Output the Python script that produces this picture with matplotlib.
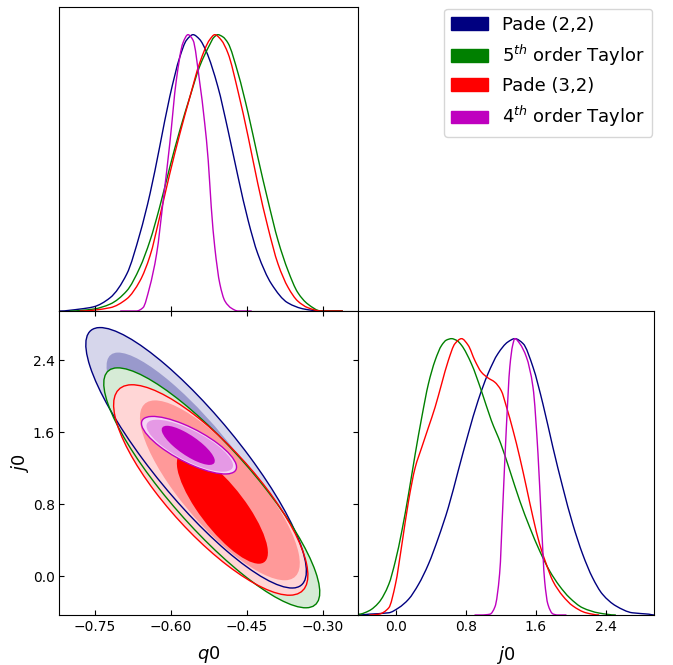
import numpy as np
import matplotlib.pyplot as plt
from matplotlib.patches import Ellipse, Patch, PathPatch
from matplotlib.path import Path

labels = ['Pade (2,2)', '$5^{th}$ order Taylor', 'Pade (3,2)', '$4^{th}$ order Taylor']
colors = ['#000080', '#008000', '#ff0000', '#bf00bf']

# 1D marginals of q0 (normalised to peak 1)
p22_q = [-0.82, -0.780, -0.753, -0.720, -0.687, -0.661, -0.641, -0.622, -0.602, -0.582, -0.569, -0.556,
         -0.543, -0.530, -0.507, -0.487, -0.467, -0.447, -0.428, -0.401, -0.369, -0.336, -0.303, -0.26]
p22_q_p = [0.0, 0.007, 0.015, 0.048, 0.134, 0.28, 0.425, 0.594, 0.776, 0.92, 0.98, 1.0,
           0.983, 0.94, 0.812, 0.655, 0.485, 0.327, 0.207, 0.098, 0.03, 0.007, 0.0, 0.0]
t5_q = [-0.80, -0.753, -0.720, -0.687, -0.661, -0.641, -0.622, -0.602, -0.582, -0.562, -0.543, -0.523,
        -0.515, -0.507, -0.497, -0.487, -0.467, -0.447, -0.428, -0.408, -0.388, -0.368, -0.349, -0.329, -0.303, -0.26]
t5_q_p = [0.0, 0.007, 0.025, 0.073, 0.158, 0.255, 0.376, 0.52, 0.655, 0.776, 0.885, 0.964,
          0.99, 1.0, 0.992, 0.97, 0.86, 0.715, 0.557, 0.4, 0.255, 0.145, 0.067, 0.025, 0.0, 0.0]
p32_q = [-0.78, -0.720, -0.687, -0.661, -0.641, -0.622, -0.602, -0.582, -0.562, -0.543, -0.523, -0.513,
         -0.500, -0.487, -0.467, -0.447, -0.428, -0.408, -0.388, -0.368, -0.349, -0.329, -0.303, -0.26]
p32_q_p = [0.0, 0.012, 0.044, 0.109, 0.2, 0.34, 0.497, 0.642, 0.776, 0.897, 0.982, 1.0,
           0.98, 0.933, 0.794, 0.63, 0.461, 0.303, 0.17, 0.085, 0.036, 0.012, 0.0, 0.0]
t4_q = [-0.70, -0.668, -0.655, -0.642, -0.628, -0.615, -0.602, -0.589, -0.576, -0.566, -0.556, -0.543,
        -0.533, -0.526, -0.520, -0.513, -0.503, -0.493, -0.480, -0.467, -0.44]
t4_q_p = [0.0, 0.0, 0.012, 0.085, 0.207, 0.4, 0.606, 0.836, 0.97, 1.0, 0.98, 0.83,
          0.68, 0.545, 0.376, 0.23, 0.098, 0.036, 0.01, 0.0, 0.0]

# 1D marginals of j0
p22_j = [-0.42, -0.306, -0.079, 0.034, 0.147, 0.261, 0.374, 0.488, 0.601, 0.714, 0.828, 0.941, 1.054,
         1.168, 1.281, 1.361, 1.455, 1.568, 1.681, 1.795, 1.908, 2.022, 2.135, 2.248, 2.362, 2.514,
         2.702, 2.891, 2.95]
p22_j_p = [0.0, 0.003, 0.008, 0.026, 0.057, 0.111, 0.184, 0.28, 0.389, 0.522, 0.655, 0.776, 0.873,
           0.946, 0.988, 1.0, 0.982, 0.897, 0.764, 0.607, 0.462, 0.329, 0.22, 0.135, 0.075, 0.033,
           0.008, 0.003, 0.0]
t5_j = [-0.42, -0.306, -0.193, -0.079, -0.003, 0.071, 0.147, 0.223, 0.298, 0.374, 0.450, 0.525, 0.58,
        0.638, 0.70, 0.752, 0.865, 0.978, 1.092, 1.20, 1.304, 1.417, 1.531, 1.644, 1.757, 1.871, 1.984,
        2.135, 2.324, 2.514]
t5_j_p = [0.003, 0.015, 0.045, 0.111, 0.196, 0.305, 0.438, 0.583, 0.716, 0.837, 0.921, 0.976, 0.995,
          1.0, 0.993, 0.976, 0.909, 0.812, 0.704, 0.62, 0.522, 0.413, 0.317, 0.232, 0.16, 0.105, 0.063,
          0.026, 0.007, 0.0]
p32_j = [-0.30, -0.193, -0.079, -0.003, 0.071, 0.147, 0.223, 0.298, 0.374, 0.450, 0.525, 0.601, 0.677,
         0.752, 0.828, 0.904, 0.978, 1.054, 1.130, 1.205, 1.266, 1.341, 1.417, 1.493, 1.568, 1.644,
         1.720, 1.795, 1.908, 2.022, 2.173, 2.324]
p32_j_p = [0.0, 0.003, 0.026, 0.111, 0.256, 0.413, 0.534, 0.607, 0.679, 0.752, 0.837, 0.921, 0.982,
           1.0, 0.976, 0.921, 0.879, 0.858, 0.843, 0.812, 0.752, 0.667, 0.57, 0.462, 0.353, 0.256,
           0.184, 0.123, 0.069, 0.033, 0.008, 0.0]
t4_j = [0.90, 0.978, 1.077, 1.134, 1.187, 1.224, 1.264, 1.304, 1.335, 1.361, 1.417, 1.493, 1.568,
        1.625, 1.663, 1.701, 1.738, 1.795, 1.848, 1.95]
t4_j_p = [0.0, 0.0, 0.003, 0.03, 0.15, 0.4, 0.68, 0.9, 0.975, 1.0, 0.982, 0.933, 0.824,
          0.583, 0.341, 0.123, 0.039, 0.004, 0.0, 0.0]

# 2D contours (68%, 95%, 99%): centre q, centre j, half-extent q, half-extent j, correlation
p22_2d = [(-0.550, 1.318, 0.109, 0.72, -0.87),
          (-0.550, 1.318, 0.177, 1.17, -0.87),
          (-0.550, 1.318, 0.218, 1.448, -0.87)]
t5_2d = [(-0.519, 0.984, 0.106, 0.66, -0.87),
         (-0.519, 0.984, 0.173, 1.08, -0.87),
         (-0.519, 0.984, 0.2135, 1.334, -0.87)]
p32_2d = [(-0.498, 0.76, 0.090, 0.62, -0.80),
          (-0.503, 0.956, 0.158, 1.00, -0.81),
          (-0.521, 0.960, 0.192, 1.17, -0.81)]
t4_2d = [(-0.5655, 1.4565, 0.0525, 0.2175, -0.80),
         (-0.5625, 1.4525, 0.0855, 0.289, -0.76),
         (-0.564, 1.458, 0.094, 0.32, -0.76)]

q_curves = [(p22_q, p22_q_p), (t5_q, t5_q_p), (p32_q, p32_q_p), (t4_q, t4_q_p)]
j_curves = [(p22_j, p22_j_p), (t5_j, t5_j_p), (p32_j, p32_j_p), (t4_j, t4_j_p)]
contours = [p22_2d, t5_2d, p32_2d, t4_2d]

qlim = (-0.82, -0.23)
jlim = (-0.43, 2.95)


def smooth_line(ax, x, y, color):
    # cubic bezier segments through the read points (monotone slopes, no overshoot)
    x = np.asarray(x, float)
    y = np.asarray(y, float)
    h = np.diff(x)
    d = np.diff(y) / h
    m = np.zeros_like(y)
    for i in range(1, len(y) - 1):
        if d[i - 1] * d[i] > 0:
            w1 = 2 * h[i] + h[i - 1]
            w2 = h[i] + 2 * h[i - 1]
            m[i] = (w1 + w2) / (w1 / d[i - 1] + w2 / d[i])
    verts = [(x[0], y[0])]
    codes = [Path.MOVETO]
    for i in range(len(x) - 1):
        verts += [(x[i] + h[i] / 3, y[i] + m[i] * h[i] / 3),
                  (x[i + 1] - h[i] / 3, y[i + 1] - m[i + 1] * h[i] / 3),
                  (x[i + 1], y[i + 1])]
        codes += [Path.CURVE4] * 3
    ax.add_patch(PathPatch(Path(verts, codes), facecolor='none', edgecolor=color, lw=1))


def ellipse(pars, **kw):
    qc, jc, qh, jh, rho = pars
    cov = np.array([[qh * qh, rho * qh * jh], [rho * qh * jh, jh * jh]])
    vals, vecs = np.linalg.eigh(cov)
    ang = np.degrees(np.arctan2(vecs[1, 1], vecs[0, 1]))
    return Ellipse((qc, jc), 2 * np.sqrt(vals[1]), 2 * np.sqrt(vals[0]), angle=ang, **kw)


def shade(c, f):
    rgb = np.array(plt.matplotlib.colors.to_rgb(c))
    return tuple(rgb * f + (1 - f))


fig = plt.figure(figsize=(6.73, 6.65), dpi=100)
ax_q = fig.add_axes([0.0884, 0.5323, 0.4435, 0.4571])
ax_2d = fig.add_axes([0.0884, 0.0752, 0.4435, 0.4571])
ax_j = fig.add_axes([0.532, 0.0752, 0.4398, 0.4571])

for (x, p), c in zip(q_curves, colors):
    smooth_line(ax_q, x, p, c)
for (x, p), c in zip(j_curves, colors):
    smooth_line(ax_j, x, p, c)

for levels, c in zip(contours, colors):
    fills = [shade(c, 1.0), shade(c, 0.4), shade(c, 0.16)]
    for lev, fc in zip(levels[::-1], fills[::-1]):
        ax_2d.add_patch(ellipse(lev, facecolor=fc, edgecolor='none', zorder=1))
for levels, c in zip(contours, colors):
    ax_2d.add_patch(ellipse(levels[-1], facecolor='none', edgecolor=c, lw=1, zorder=3))

ax_q.set_xlim(qlim)
ax_q.set_ylim(0, 1.1)
ax_q.set_yticks([])
ax_q.set_xticks([-0.75, -0.60, -0.45, -0.30])
ax_q.tick_params(direction='in', labelbottom=False)

ax_2d.set_xlim(qlim)
ax_2d.set_ylim(jlim)
ax_2d.set_xticks([-0.75, -0.60, -0.45, -0.30])
ax_2d.set_yticks([0.0, 0.8, 1.6, 2.4])
ax_2d.tick_params(direction='in', top=True, right=True, labelsize=10)
ax_2d.set_xlabel('$q0$', fontsize=13, labelpad=7)
ax_2d.set_ylabel('$j0$', fontsize=13, labelpad=1)

ax_j.set_xlim(jlim)
ax_j.set_ylim(0, 1.1)
ax_j.set_yticks([])
ax_j.set_xticks([0.0, 0.8, 1.6, 2.4])
ax_j.tick_params(direction='in', labelsize=10)
ax_j.set_xlabel('$j0$', fontsize=13, labelpad=7)

handles = [Patch(facecolor=c, edgecolor=c) for c in colors]
fig.legend(handles, labels, loc='upper right', bbox_to_anchor=(0.969, 0.987),
           borderaxespad=0, fontsize=13)

fig.savefig('out.png', dpi=100)
